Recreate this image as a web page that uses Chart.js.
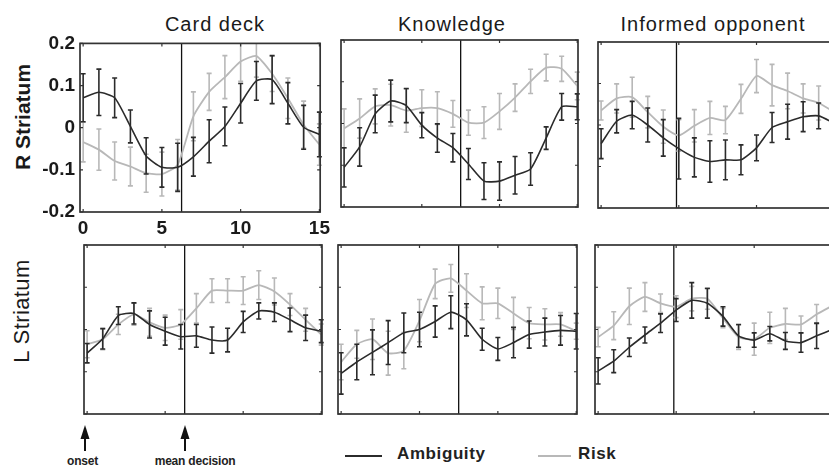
<!DOCTYPE html>
<html>
<head>
<meta charset="utf-8">
<script src="https://cdn.jsdelivr.net/npm/chart.js@4.4.1/dist/chart.umd.min.js"></script>
<style>
  html, body { margin: 0; padding: 0; background: #fff; }
  body { width: 829px; height: 466px; position: relative; overflow: hidden;
         font-family: "Liberation Sans", Arial, sans-serif; color: #222; }
  canvas { position: absolute; }
  .title { position: absolute; top: 14px; font-size: 20px; line-height: 20px; letter-spacing: 1px;
           transform: translateX(-50%); white-space: nowrap; color: #1a1a1a; }
  .rowlab { position: absolute; font-size: 21px; line-height: 21px; font-weight: bold; white-space: nowrap;
            transform: translate(-50%, -50%) rotate(-90deg); color: #1a1a1a; }
  .note { position: absolute; font-size: 12px; line-height: 12px; font-weight: bold; white-space: nowrap; letter-spacing: -0.2px; }
  .arrow { position: absolute; width: 10px; height: 26px; }
  .leg-line { position: absolute; height: 2px; }
  .leg-text { position: absolute; font-size: 17px; line-height: 17px; font-weight: bold; letter-spacing: 0.6px; white-space: nowrap; }
</style>
</head>
<body>

<div class="title" id="t0"></div>
<div class="title" id="t1"></div>
<div class="title" id="t2"></div>
<div class="rowlab" id="r0" style="left:22px; top:117px;"></div>
<div class="rowlab" id="r1" style="left:21px; top:311px; font-weight:normal; font-size:22px; letter-spacing:0.4px;"></div>

<svg class="arrow" id="a0" viewBox="0 0 10 26"><polygon points="5,0 0.5,14 9.5,14" fill="#111"/><rect x="4" y="12" width="2" height="14" fill="#111"/></svg>
<svg class="arrow" id="a1" viewBox="0 0 10 26"><polygon points="5,0 0.5,14 9.5,14" fill="#111"/><rect x="4" y="12" width="2" height="14" fill="#111"/></svg>
<div class="note" id="n0" style="top:455px;"></div>
<div class="note" id="n1" style="top:455px;"></div>

<div class="leg-line" style="left:345px; top:455px; width:37px; background:#2b2b2b;"></div>
<div class="leg-text" id="l0" style="left:397px; top:445px;"></div>
<div class="leg-line" style="left:538px; top:455px; width:33px; background:#b8b8b8;"></div>
<div class="leg-text" id="l1" style="left:578px; top:445px;"></div>

<script>
// time points (scan volumes after trial onset)
const timePoints = [0, 1, 2, 3, 4, 5, 6, 7, 8, 9, 10, 11, 12, 13, 14, 15];
const conditions = ['Card deck', 'Knowledge', 'Informed opponent'];
const regions = ['R Striatum', 'L Striatum'];
const seriesNames = ['Ambiguity', 'Risk'];
const meanDecision = [6.25, 7.5, 4.85];
const notes = ['onset', 'mean decision'];

const yTicks = [-0.2, -0.1, 0, 0.1, 0.2];
const yTickLabels = ['-0.2', '-0.1', '0', '0.1', '0.2'];
const xTicks = [0, 5, 10, 15];
const xTickLabels = ['0', '5', '10', '15'];

// R Striatum
const rCardAmb = [0.071, 0.084, 0.071, 0.003, -0.067, -0.094, -0.094, -0.069, -0.032, 0.003, 0.058, 0.111, 0.114, 0.058, 0.001, -0.016];
const rCardAmbErr = [0.057, 0.055, 0.047, 0.039, 0.043, 0.047, 0.057, 0.046, 0.051, 0.046, 0.047, 0.046, 0.057, 0.049, 0.052, 0.053];
const rCardRisk = [-0.034, -0.052, -0.079, -0.092, -0.108, -0.11, -0.088, 0.027, 0.085, 0.12, 0.157, 0.17, 0.128, 0.07, 0.007, -0.04];
const rCardRiskErr = [0.047, 0.049, 0.045, 0.046, 0.045, 0.052, 0.06, 0.058, 0.044, 0.051, 0.047, 0.05, 0.042, 0.048, 0.056, 0.049];

const rKnowAmb = [-0.105, -0.056, 0.023, 0.054, 0.043, -0.004, -0.035, -0.058, -0.097, -0.138, -0.138, -0.124, -0.109, -0.035, 0.04, 0.04];
const rKnowAmbErr = [0.047, 0.046, 0.045, 0.05, 0.041, 0.03, 0.034, 0.034, 0.037, 0.044, 0.046, 0.045, 0.039, 0.027, 0.032, 0.031];
const rKnowRisk = [-0.012, 0.012, 0.041, 0.044, 0.031, 0.037, 0.037, 0.023, 0.002, 0.002, 0.029, 0.062, 0.101, 0.134, 0.131, 0.09];
const rKnowRiskErr = [0.047, 0.047, 0.042, 0.05, 0.052, 0.044, 0.039, 0.032, 0.03, 0.038, 0.043, 0.033, 0.029, 0.032, 0.03, 0.033];

const rInfAmb = [-0.045, 0.009, 0.024, 0, -0.031, -0.057, -0.078, -0.088, -0.084, -0.084, -0.055, -0.006, 0.008, 0.02, 0.022, 0.004];
const rInfAmbErr = [0.036, 0.028, 0.033, 0.041, 0.044, 0.073, 0.047, 0.05, 0.048, 0.036, 0.031, 0.036, 0.042, 0.036, 0.031, 0.04];
const rInfRisk = [0.035, 0.064, 0.067, 0.031, -0.004, -0.025, -0.002, 0.017, 0.012, 0.063, 0.118, 0.096, 0.082, 0.064, 0.053, 0.031];
const rInfRiskErr = [0.023, 0.035, 0.048, 0.038, 0.04, 0.038, 0.039, 0.04, 0.033, 0.035, 0.04, 0.05, 0.043, 0.035, 0.041, 0.04];

// L Striatum
const lCardAmb = [-0.056, -0.022, 0.033, 0.038, 0.012, -0.004, -0.017, -0.015, -0.025, -0.025, 0.018, 0.044, 0.041, 0.023, 0.004, -0.004];
const lCardAmbErr = [0.023, 0.024, 0.021, 0.025, 0.032, 0.033, 0.029, 0.027, 0.031, 0.028, 0.025, 0.019, 0.022, 0.028, 0.03, 0.027];
const lCardRisk = [-0.035, -0.023, 0.012, 0.036, 0.017, 0.004, 0.012, 0.05, 0.092, 0.092, 0.092, 0.105, 0.09, 0.059, 0.023, -0.012];
const lCardRiskErr = [0.032, 0.025, 0.024, 0.026, 0.033, 0.03, 0.035, 0.035, 0.028, 0.028, 0.033, 0.034, 0.032, 0.026, 0.027, 0.025];

const lKnowAmb = [-0.104, -0.077, -0.054, -0.031, -0.008, 0, 0.019, 0.041, 0.023, -0.023, -0.046, -0.031, -0.012, -0.006, -0.002, -0.004];
const lKnowAmbErr = [0.049, 0.042, 0.053, 0.052, 0.047, 0.041, 0.037, 0.039, 0.038, 0.026, 0.027, 0.036, 0.032, 0.033, 0.035, 0.042];
const lKnowRisk = [-0.077, -0.035, -0.023, -0.056, -0.05, 0.021, 0.108, 0.121, 0.092, 0.062, 0.062, 0.038, 0.015, 0.012, 0.012, -0.004];
const lKnowRiskErr = [0.042, 0.033, 0.048, 0.052, 0.043, 0.05, 0.035, 0.033, 0.04, 0.039, 0.036, 0.038, 0.037, 0.037, 0.028, 0.019];

const lInfAmb = [-0.098, -0.075, -0.042, -0.013, 0.015, 0.046, 0.069, 0.062, 0.031, -0.015, -0.025, -0.01, -0.027, -0.031, -0.015, 0];
const lInfAmbErr = [0.031, 0.027, 0.022, 0.019, 0.022, 0.027, 0.042, 0.035, 0.023, 0.027, 0.017, 0.017, 0.02, 0.023, 0.03, 0.032];
const lInfRisk = [-0.018, 0.009, 0.055, 0.077, 0.062, 0.054, 0.073, 0.073, 0.027, -0.018, -0.023, 0.004, 0.013, 0.012, 0.036, 0.056];
const lInfRiskErr = [0.023, 0.033, 0.043, 0.034, 0.022, 0.026, 0.029, 0.025, 0.023, 0.029, 0.038, 0.037, 0.037, 0.02, 0.023, 0.029];

const darkColor = '#2b2b2b';
const lightColor = '#b8b8b8';

// plot-area rectangles for the 6 panels (page pixels)
const panels = [
  { left: 80,  top: 41,  w: 241, h: 171, axes: true,  cond: 0, amb: rCardAmb, ambErr: rCardAmbErr, risk: rCardRisk, riskErr: rCardRiskErr },
  { left: 337, top: 40,  w: 241, h: 171, axes: false, cond: 1, amb: rKnowAmb, ambErr: rKnowAmbErr, risk: rKnowRisk, riskErr: rKnowRiskErr },
  { left: 594, top: 42,  w: 241, h: 170, axes: false, cond: 2, amb: rInfAmb,  ambErr: rInfAmbErr,  risk: rInfRisk,  riskErr: rInfRiskErr },
  { left: 80,  top: 245, w: 242, h: 173, axes: false, cond: 0, amb: lCardAmb, ambErr: lCardAmbErr, risk: lCardRisk, riskErr: lCardRiskErr },
  { left: 334, top: 245, w: 243, h: 173, axes: false, cond: 1, amb: lKnowAmb, ambErr: lKnowAmbErr, risk: lKnowRisk, riskErr: lKnowRiskErr },
  { left: 591, top: 245, w: 242, h: 173, axes: false, cond: 2, amb: lInfAmb,  ambErr: lInfAmbErr,  risk: lInfRisk,  riskErr: lInfRiskErr }
];

// error bars, frame with inward ticks, mean decision line
const panelPlugin = {
  id: 'panelDecor',
  beforeDatasetsDraw(chart, args, opts) {
    const { ctx, chartArea: a, scales: { x } } = chart;
    const px = x.getPixelForValue(opts.decision);
    ctx.save();
    ctx.strokeStyle = '#111';
    ctx.lineWidth = 1.3;
    ctx.beginPath();
    ctx.moveTo(px, a.top);
    ctx.lineTo(px, a.bottom);
    ctx.stroke();
    ctx.restore();
  },
  afterDatasetDraw(chart, args) {
    const ds = chart.data.datasets[args.index];
    const { ctx, chartArea: a, scales: { y } } = chart;
    ctx.save();
    ctx.beginPath();
    ctx.rect(a.left - 3, a.top, a.right - a.left + 6, a.bottom - a.top);
    ctx.clip();
    ctx.strokeStyle = ds.borderColor;
    ctx.lineWidth = 1.6;
    args.meta.data.forEach((pt, i) => {
      const v = ds.data[i].y, e = ds.errors[i];
      const y1 = y.getPixelForValue(v + e), y2 = y.getPixelForValue(v - e);
      ctx.beginPath();
      ctx.moveTo(pt.x, y1); ctx.lineTo(pt.x, y2);
      ctx.moveTo(pt.x - 2.5, y1); ctx.lineTo(pt.x + 2.5, y1);
      ctx.moveTo(pt.x - 2.5, y2); ctx.lineTo(pt.x + 2.5, y2);
      ctx.stroke();
    });
    ctx.restore();
  },
  afterDraw(chart) {
    const { ctx, chartArea: a, scales: { x, y } } = chart;
    ctx.save();
    ctx.strokeStyle = '#333';
    ctx.lineWidth = 1.7;
    ctx.strokeRect(a.left, a.top, a.right - a.left, a.bottom - a.top);
    ctx.lineWidth = 1.2;
    ctx.beginPath();
    yTicks.forEach(v => {
      const py = y.getPixelForValue(v);
      ctx.moveTo(a.left, py); ctx.lineTo(a.left + 3, py);
      ctx.moveTo(a.right, py); ctx.lineTo(a.right - 3, py);
    });
    xTicks.forEach(v => {
      const px = x.getPixelForValue(v);
      ctx.moveTo(px, a.bottom); ctx.lineTo(px, a.bottom - 3);
      ctx.moveTo(px, a.top); ctx.lineTo(px, a.top + 3);
    });
    ctx.stroke();
    ctx.restore();
  }
};

const tickFont = { family: '"Liberation Sans", Arial, sans-serif', size: 19, weight: 'bold' };
const charts = [];

panels.forEach(p => {
  const padL = p.axes ? 80 : 4;
  const padB = p.axes ? 32 : 4;
  const padT = p.axes ? 14 : 4;
  const padR = p.axes ? 14 : 4;
  const canvas = document.createElement('canvas');
  canvas.width = padL + p.w + padR;
  canvas.height = padT + p.h + padB;
  canvas.style.left = (p.left - padL) + 'px';
  canvas.style.top = (p.top - padT) + 'px';
  document.body.appendChild(canvas);

  const chart = new Chart(canvas, {
    type: 'line',
    data: {
      datasets: [
        { label: seriesNames[0], data: timePoints.map((t, i) => ({ x: t, y: p.amb[i] })), errors: p.ambErr,
          borderColor: darkColor, borderWidth: 1.6, pointRadius: 0, tension: 0.2 },
        { label: seriesNames[1], data: timePoints.map((t, i) => ({ x: t, y: p.risk[i] })), errors: p.riskErr,
          borderColor: lightColor, borderWidth: 1.8, pointRadius: 0, tension: 0.2 }
      ]
    },
    options: {
      responsive: false,
      animation: false,
      devicePixelRatio: 1,
      layout: { padding: p.axes ? { top: padT, right: padR, left: 0, bottom: 0 } : { top: padT, right: padR, left: padL, bottom: padB } },
      plugins: {
        legend: { display: false },
        tooltip: { enabled: false },
        panelDecor: { decision: meanDecision[p.cond] }
      },
      scales: {
        x: {
          type: 'linear', min: -0.2, max: 15.05, display: p.axes,
          grid: { display: false, drawTicks: false }, border: { display: false },
          afterBuildTicks: s => { s.ticks = xTicks.map(v => ({ value: v })); },
          afterFit: s => { s.height = padB; },
          ticks: { font: tickFont, color: '#1a1a1a', padding: 5, maxRotation: 0, autoSkip: false,
                   callback: v => xTickLabels[xTicks.indexOf(v)] }
        },
        y: {
          min: -0.2, max: 0.2, display: p.axes,
          grid: { display: false, drawTicks: false }, border: { display: false },
          afterBuildTicks: s => { s.ticks = yTicks.map(v => ({ value: v })); },
          afterFit: s => { s.width = padL; },
          ticks: { font: tickFont, color: '#1a1a1a', padding: 5,
                   callback: v => yTickLabels[yTicks.findIndex(t => Math.abs(t - v) < 1e-9)] }
        }
      }
    },
    plugins: [panelPlugin]
  });
  charts.push({ chart, canvas, p });
});

// titles and labels
[0, 1, 2].forEach(i => {
  const el = document.getElementById('t' + i);
  el.textContent = conditions[i];
});
document.getElementById('t0').style.left = '215px';
document.getElementById('t1').style.left = '452px';
document.getElementById('t2').style.left = '713px';
document.getElementById('r0').textContent = regions[0];
document.getElementById('r1').textContent = regions[1];
document.getElementById('l0').textContent = seriesNames[0];
document.getElementById('l1').textContent = seriesNames[1];

// onset / mean decision arrows under the Card deck L panel
const ref = charts[3];
const offX = parseFloat(ref.canvas.style.left);
const xOnset = offX + ref.chart.scales.x.getPixelForValue(0) - 2;
const xDec = offX + ref.chart.scales.x.getPixelForValue(meanDecision[0]);
const a0 = document.getElementById('a0'), a1 = document.getElementById('a1');
a0.style.left = (xOnset - 5) + 'px'; a0.style.top = '425px';
a1.style.left = (xDec - 5) + 'px'; a1.style.top = '425px';
const n0 = document.getElementById('n0'), n1 = document.getElementById('n1');
n0.textContent = notes[0]; n1.textContent = notes[1];
n0.style.left = (xOnset - 18) + 'px';
n1.style.left = (xDec - 30) + 'px';
</script>
</body>
</html>
